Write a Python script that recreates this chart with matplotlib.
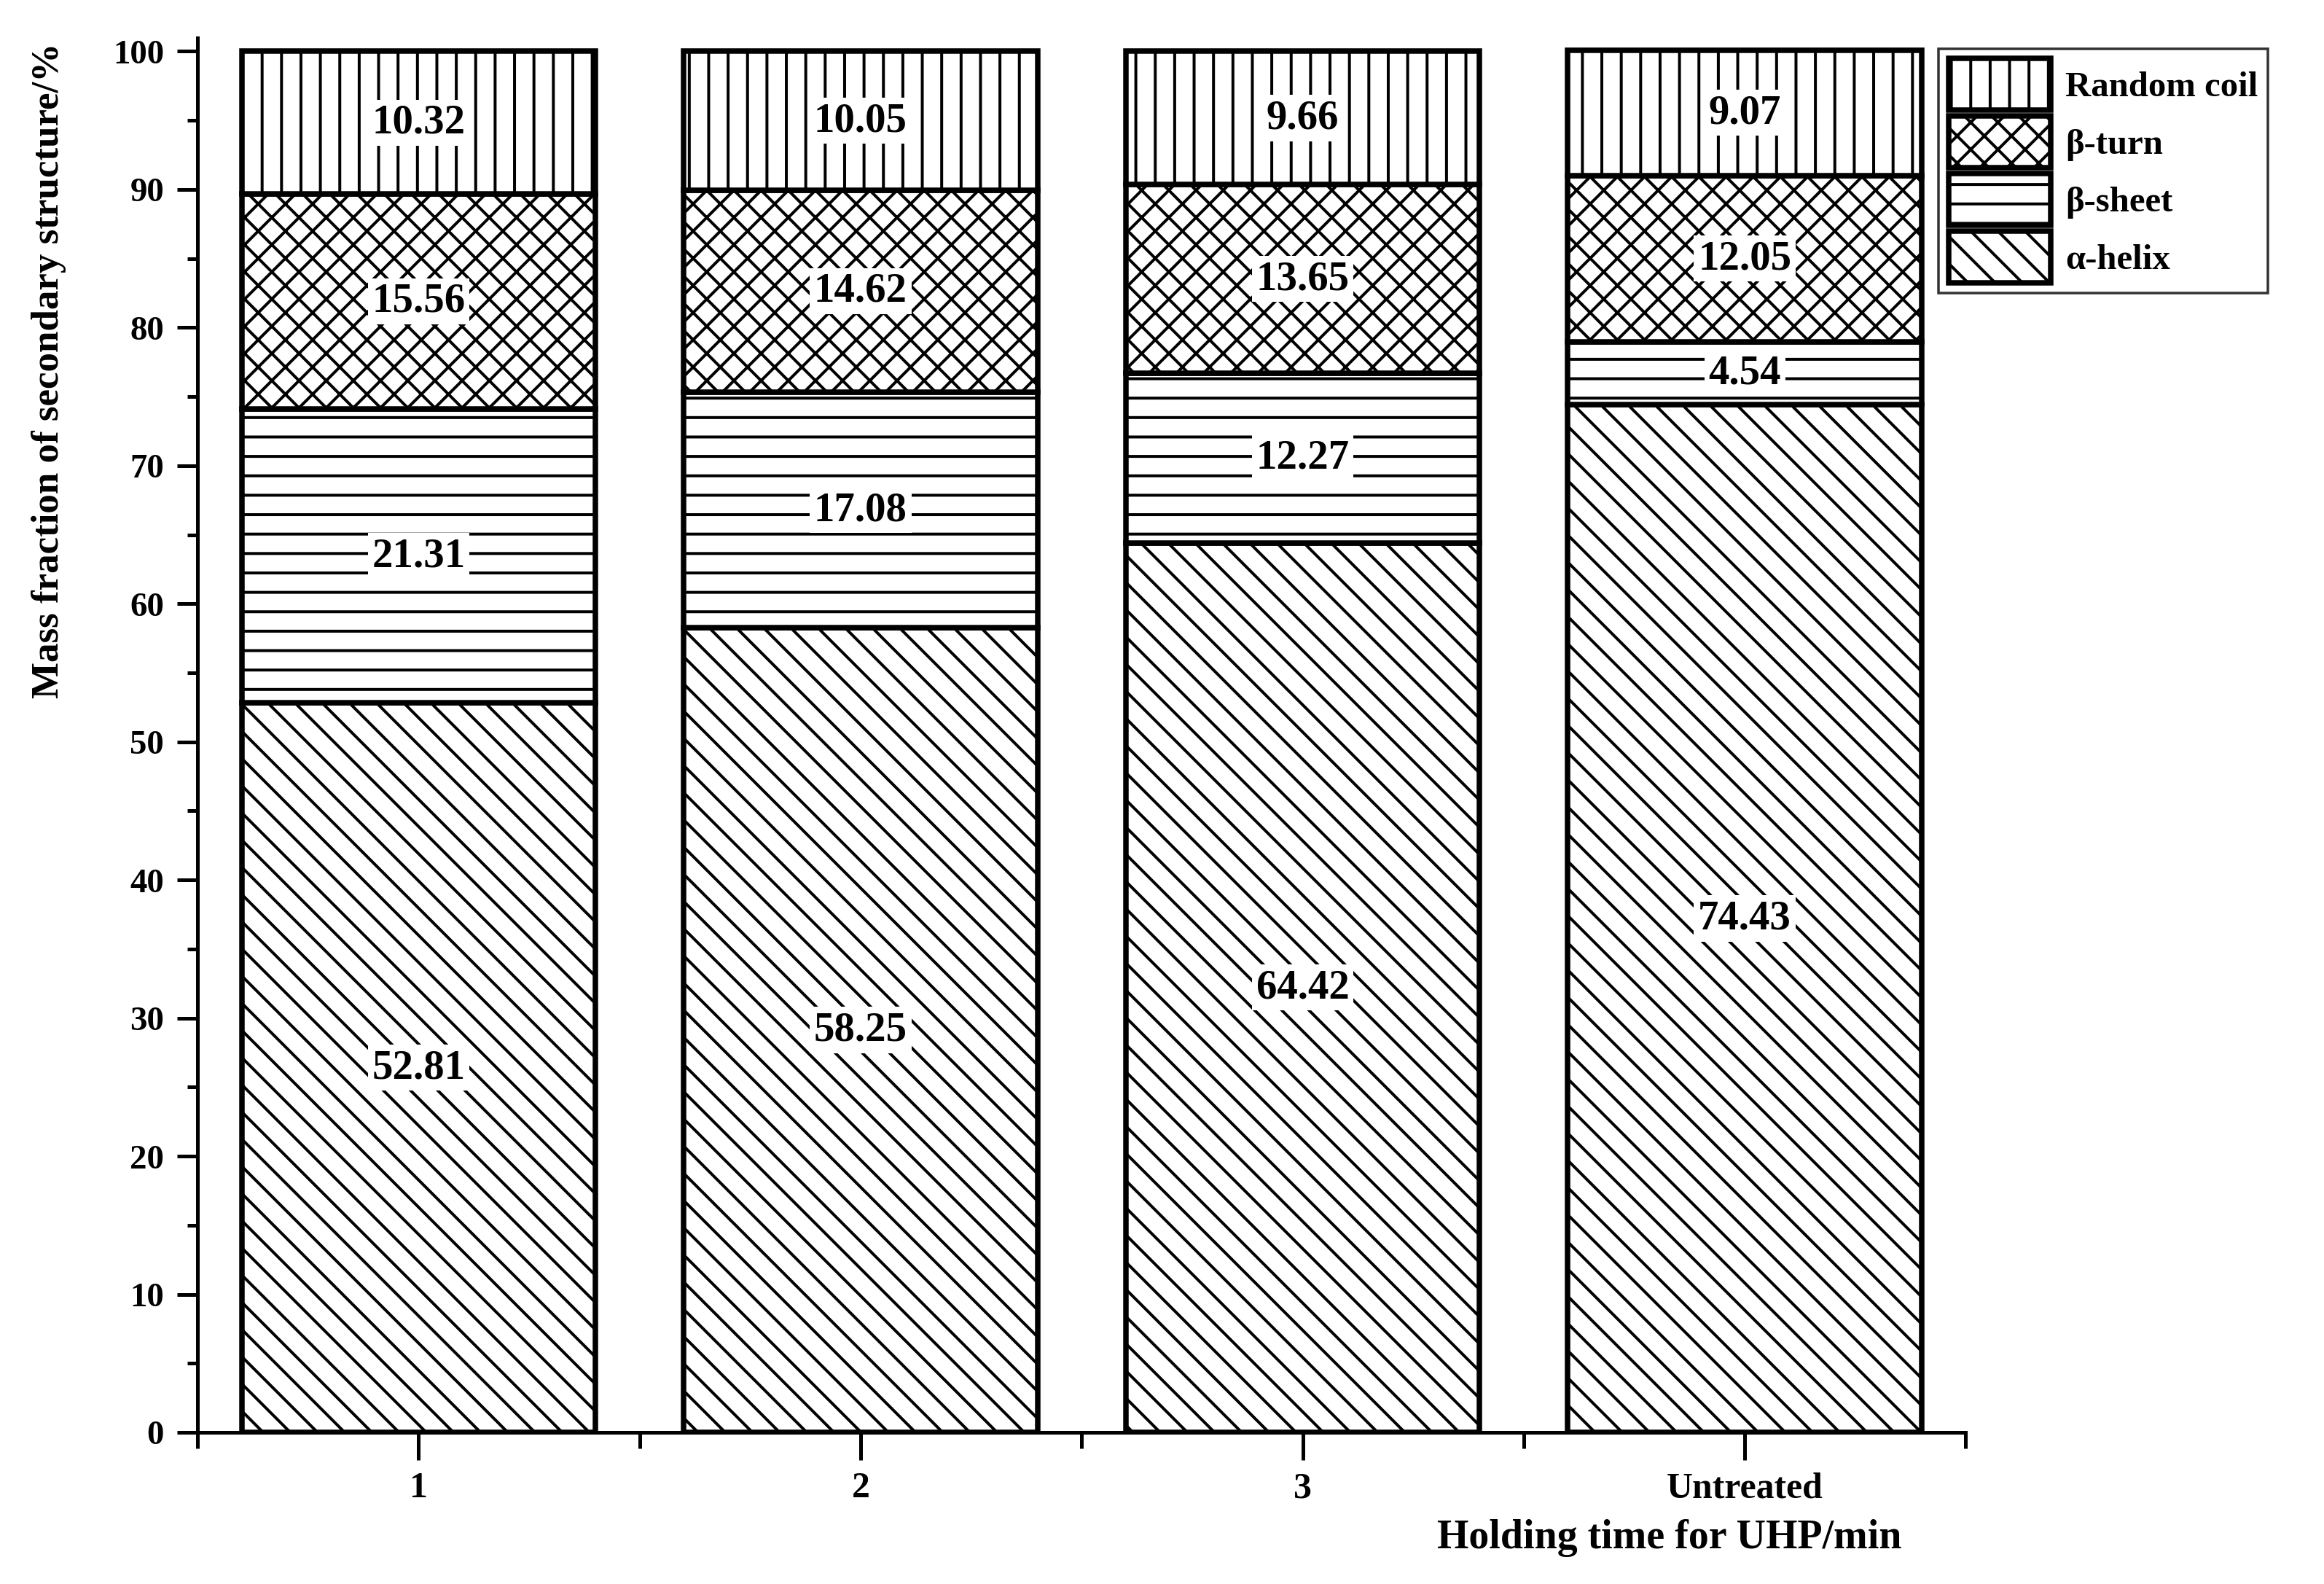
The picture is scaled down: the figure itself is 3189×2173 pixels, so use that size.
import matplotlib
matplotlib.use("Agg")
import matplotlib.pyplot as plt
import numpy as np

groups = ["1", "2", "3", "Untreated"]
alpha_helix = [52.81, 58.25, 64.42, 74.43]
beta_sheet = [21.31, 17.08, 12.27, 4.54]
beta_turn = [15.56, 14.62, 13.65, 12.05]
random_coil = [10.32, 10.05, 9.66, 9.07]

series_names = ["α-helix", "β-sheet", "β-turn", "Random coil"]
series_vals = [alpha_helix, beta_sheet, beta_turn, random_coil]
# diagonal hatches are spaced 2/n per inch, straight ones 1/n
hatches = ["\\" * 10, "-" * 7, "x" * 10, "|" * 7]

# high dpi so the hatch density matches the original
DPI = 1119
W, H = 3189, 2173


def px(v):
    # pixels -> points
    return v * 72.0 / DPI


plt.rcParams["font.family"] = ["Liberation Serif", "DejaVu Serif"]
plt.rcParams["font.weight"] = "bold"
plt.rcParams["hatch.linewidth"] = px(4)
plt.rcParams["hatch.color"] = "black"

fig = plt.figure(figsize=(3189.5 / DPI, 2173.5 / DPI), dpi=DPI)
ax = fig.add_axes([271 / W, 208 / H, (2697 - 271) / W, (2121 - 208) / H])

x = np.arange(len(groups))
bottom = np.zeros(len(groups))
bars = []
for name, vals, hatch in zip(series_names, series_vals, hatches):
    b = ax.bar(x, vals, width=0.8, bottom=bottom, color="white",
               edgecolor="black", linewidth=px(7.5), hatch=hatch, label=name)
    bars.append(b)
    for xi, v, b0 in zip(x, vals, bottom):
        ax.text(xi, b0 + v / 2, f"{v:.2f}", ha="center", va="center",
                fontsize=px(57), fontweight="bold",
                bbox=dict(boxstyle="square,pad=0.1", fc="white", ec="none"))
    bottom = bottom + np.array(vals)

ax.set_xlim(-0.5, 3.5)
ax.set_ylim(0, 101)
ax.set_xticks(x)
ax.set_xticklabels(groups, fontsize=px(50))
ax.set_xticks(np.arange(-0.5, 3.6, 1.0), minor=True)
ax.set_yticks(np.arange(0, 101, 10))
ax.set_yticks(np.arange(0, 101, 5), minor=True)
ax.tick_params(axis="y", labelsize=px(47))

for s in ["top", "right"]:
    ax.spines[s].set_visible(False)
for s in ["left", "bottom"]:
    ax.spines[s].set_linewidth(px(5))

ax.tick_params(axis="y", which="major", direction="out", length=px(28), width=px(5), pad=px(18))
ax.tick_params(axis="y", which="minor", direction="out", length=px(14), width=px(5))
ax.tick_params(axis="x", which="major", direction="out", length=px(38), width=px(5), pad=px(16))
ax.tick_params(axis="x", which="minor", direction="out", length=px(22), width=px(5))

fig.text(67 / W, 1 - 508 / H, "Mass fraction of secondary structure/%",
         rotation=90, ha="center", va="center", fontsize=px(53), fontweight="bold")
fig.text(2290 / W, 1 - 2110 / H, "Holding time for UHP/min",
         ha="center", va="center", fontsize=px(56), fontweight="bold")

handles = bars[::-1]
labels = series_names[::-1]
leg = ax.legend(handles, labels, loc="upper left",
                bbox_to_anchor=(2660 / W, 1 - 67 / H), bbox_transform=fig.transFigure,
                borderaxespad=0, fontsize=px(49), handlelength=2.86, handleheight=1.85,
                labelspacing=0.163, handletextpad=0.4, borderpad=0.28,
                fancybox=False, frameon=True, edgecolor="black")
leg.get_frame().set_linewidth(px(3.5))
for t in leg.get_texts():
    t.set_fontweight("bold")

fig.savefig("out.png", dpi=DPI)
